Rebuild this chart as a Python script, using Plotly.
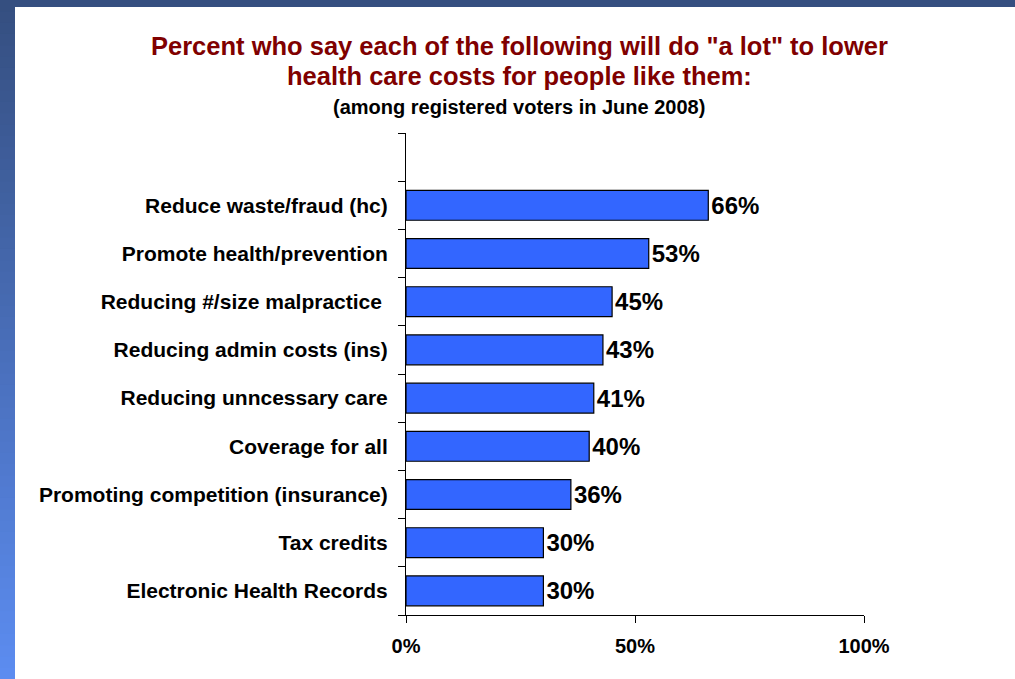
import plotly.graph_objects as go

categories = [
    "Reduce waste/fraud (hc)",
    "Promote health/prevention",
    "Reducing #/size malpractice ",
    "Reducing admin costs (ins)",
    "Reducing unncessary care",
    "Coverage for all",
    "Promoting competition (insurance)",
    "Tax credits",
    "Electronic Health Records",
]
values = [66, 53, 45, 43, 41, 40, 36, 30, 30]
x_ticks = [0, 50, 100]
x_tick_labels = ["0%", "50%", "100%"]

n = len(categories)
ypos = [n - 1 - i for i in range(n)]  # top to bottom

FONT = "Arial, Liberation Sans, sans-serif"
W, H = 1015, 679
L, R, T, B = 406, 151, 133, 64
PW, PH = W - L - R, H - T - B


def px_x(x):
    return (x - L) / PW


def px_y(y):
    return (H - B - y) / PH


fig = go.Figure()
fig.add_trace(go.Bar(
    x=values, y=ypos, orientation="h", width=0.62,
    marker=dict(color="#3366FF", line=dict(color="#000000", width=1.2)),
    text=[f"{v}%" for v in values], textposition="outside",
    textfont=dict(family=FONT, size=24, color="#000000", weight="bold"),
    cliponaxis=False, hoverinfo="skip",
))

shapes = []
# top band
shapes.append(dict(type="rect", xref="paper", yref="paper", x0=px_x(0), x1=px_x(W),
                   y0=px_y(7), y1=px_y(0), fillcolor="#354F80", line_width=0, layer="below"))
# left gradient band (styling only)
steps = 60
c0 = (0x35, 0x4F, 0x80)
c1 = (0x5C, 0x8C, 0xF0)
for k in range(steps):
    t = k / (steps - 1)
    col = tuple(int(round(c0[j] + (c1[j] - c0[j]) * t)) for j in range(3))
    ytop = k * H / steps
    ybot = (k + 1) * H / steps + 1
    shapes.append(dict(type="rect", xref="paper", yref="paper",
                       x0=px_x(0), x1=px_x(15), y0=px_y(ybot), y1=px_y(ytop),
                       fillcolor="rgb(%d,%d,%d)" % col, line_width=0, layer="below"))

cx = px_x(519)
fig.update_layout(
    width=W, height=H,
    margin=dict(l=L, r=R, t=T, b=B),
    paper_bgcolor="#FFFFFF", plot_bgcolor="#FFFFFF",
    showlegend=False,
    shapes=shapes,
    font=dict(family=FONT, color="#000000"),
    xaxis=dict(range=[0, 100], tickvals=x_ticks, ticktext=x_tick_labels,
               showgrid=False, zeroline=False, showline=True, linecolor="#000000", linewidth=1,
               ticks="outside", ticklen=7, tickcolor="#000000", tickwidth=1,
               tickfont=dict(family=FONT, size=20, color="#000000", weight="bold"),
               ticklabelstandoff=6),
    yaxis=dict(range=[-0.5, n + 0.5], tickvals=ypos, ticktext=categories,
               showgrid=False, zeroline=False, showline=True, linecolor="#000000", linewidth=1,
               ticks="", tickfont=dict(family=FONT, size=21, color="#000000", weight="bold"),
               ticklabelstandoff=13,
               minor=dict(tickvals=[i - 0.5 for i in range(n + 2)], ticks="outside", ticklen=7,
                          tickcolor="#000000", tickwidth=1, showgrid=False)),
    annotations=[
        dict(text="<b>Percent who say each of the following will do \"a lot\" to lower</b>",
             xref="paper", yref="paper", x=cx, y=px_y(46), xanchor="center", yanchor="middle",
             showarrow=False, font=dict(family=FONT, size=25.5, color="#800000")),
        dict(text="<b>health care costs for people like them:</b>",
             xref="paper", yref="paper", x=cx, y=px_y(76), xanchor="center", yanchor="middle",
             showarrow=False, font=dict(family=FONT, size=25.5, color="#800000")),
        dict(text="<b>(among registered voters in June 2008)</b>",
             xref="paper", yref="paper", x=cx, y=px_y(107), xanchor="center", yanchor="middle",
             showarrow=False, font=dict(family=FONT, size=20, color="#000000")),
    ],
)

fig.write_html("out.html", config={"displayModeBar": False},
               post_script="document.body.style.margin='0px';")
